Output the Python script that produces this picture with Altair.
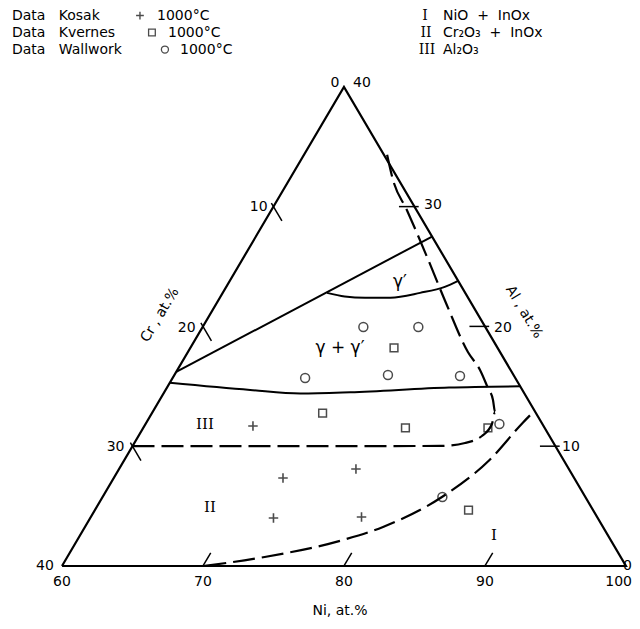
import altair as alt
import pandas as pd

# ---- compositions in at.% : Ni, Al  (Cr = 100 - Ni - Al) ----
tri_ni = [60, 100, 60, 60]
tri_al = [0, 0, 40, 0]

upper_ni = [60, 72.5]
upper_al = [16.2, 27.5]

gprime_ni = [67.4, 68.8, 70.3, 72.1, 74.0, 75.5, 76.2]
gprime_al = [22.8, 22.5, 22.4, 22.4, 22.8, 23.3, 23.8]

lower_ni = [60, 66.0, 69.7, 73.2, 80.0, 85.0]
lower_al = [15.3, 14.7, 14.4, 14.5, 14.9, 15.0]

dash1_ni = [60, 71.9, 81.8, 83.45, 84.36, 84.57, 84.29, 83.64, 82.78, 81.47, 79.86, 76.4, 73.0, 69.6, 67.37, 65.8]
dash1_al = [10, 10, 10.02, 10.27, 10.85, 11.85, 12.85, 13.86, 14.86, 16.36, 17.86, 21.79, 25.79, 29.72, 32.22, 34.47]

dash2_ni = [70.1, 74.0, 78.85, 81.14, 84.07, 85.9, 86.7, 87.0]
dash2_al = [0, 0.75, 2.17, 3.26, 5.76, 8.85, 11.94, 12.85]

kosak_ni = [67.7, 72.0, 76.8, 73.0, 79.2]
kosak_al = [11.69, 7.35, 8.10, 4.0, 4.09]

kvernes_ni = [74.45, 72.1, 78.6, 84.45, 86.5]
kvernes_al = [18.2, 12.77, 11.52, 11.52, 4.67]

wallwork_ni = [71.4, 75.3, 69.4, 75.15, 80.3, 85.1, 84.1]
wallwork_al = [19.95, 19.95, 15.69, 15.94, 15.86, 11.85, 5.76]

ni_ticks = [70, 80, 90]
cr_ticks = [10, 20, 30]
al_ticks = [10, 20, 30]

NB = "\u00a0"


def cart(ni, al):
    return ni + al / 2.0, al


def line_df(ni, al, group="g"):
    rows = []
    for i, (n, a) in enumerate(zip(ni, al)):
        x, y = cart(n, a)
        rows.append({"x": x, "y": y, "o": i, "g": group})
    return pd.DataFrame(rows)


def pts_df(ni, al):
    rows = []
    for n, a in zip(ni, al):
        x, y = cart(n, a)
        rows.append({"x": x, "y": y})
    return pd.DataFrame(rows)


xs = alt.Scale(domain=[56.17, 100.43], nice=False, zero=False)
ys = alt.Scale(domain=[-4.51, 46.58], nice=False, zero=False)
X = alt.X("x:Q", scale=xs, axis=None)
Y = alt.Y("y:Q", scale=ys, axis=None)


def solid(df, width=2):
    return alt.Chart(df).mark_line(color="black", strokeWidth=width).encode(
        x=X, y=Y, order="o:Q", detail="g:N")


def dashed(df):
    return alt.Chart(df).mark_line(color="black", strokeWidth=2.2, strokeDash=[22, 7], interpolate="monotone").encode(
        x=X, y=Y, order="o:Q")


layers = []
layers.append(solid(line_df(tri_ni, tri_al), 2.2))
layers.append(solid(line_df(upper_ni, upper_al)))
layers.append(alt.Chart(line_df(gprime_ni, gprime_al)).mark_line(color="black", strokeWidth=2, interpolate="monotone").encode(x=X, y=Y, order="o:Q"))
layers.append(alt.Chart(line_df(lower_ni, lower_al)).mark_line(color="black", strokeWidth=2, interpolate="monotone").encode(x=X, y=Y, order="o:Q"))
layers.append(dashed(line_df(dash1_ni, dash1_al)))
layers.append(dashed(line_df(dash2_ni, dash2_al)))

# ticks
tick_frames = []
for t in ni_ticks:
    tick_frames.append(line_df([t, t], [0, 1.1], f"ni{t}"))
for c in cr_ticks:
    a = 40 - c
    tick_frames.append(line_df([60 - 0.3, 61.2], [a + 0.3, a - 1.2], f"cr{c}"))
for a in al_ticks:
    tick_frames.append(line_df([100 - a + 0.3, 100 - a - 1.1], [a, a], f"al{a}"))
layers.append(solid(pd.concat(tick_frames), 1.5))

# data points
plus_path = "M-1,0L1,0M0,-1L0,1"
layers.append(alt.Chart(pts_df(kosak_ni, kosak_al)).mark_point(shape=plus_path, size=90, color="black", strokeWidth=1.6, filled=False).encode(x=X, y=Y))
layers.append(alt.Chart(pts_df(kvernes_ni, kvernes_al)).mark_point(shape="square", size=60, color="black", strokeWidth=1.5, filled=False).encode(x=X, y=Y))
layers.append(alt.Chart(pts_df(wallwork_ni, wallwork_al)).mark_point(shape="circle", size=80, color="black", strokeWidth=1.5, filled=False).encode(x=X, y=Y))

# legend symbols
layers.append(alt.Chart(pd.DataFrame({"x": [65.53], "y": [45.95]})).mark_point(shape=plus_path, size=60, color="black", strokeWidth=1.4, filled=False).encode(x=X, y=Y))
layers.append(alt.Chart(pd.DataFrame({"x": [66.38], "y": [44.53]})).mark_point(shape="square", size=45, color="black", strokeWidth=1.3, filled=False).encode(x=X, y=Y))
layers.append(alt.Chart(pd.DataFrame({"x": [67.30], "y": [43.11]})).mark_point(shape="circle", size=50, color="black", strokeWidth=1.3, filled=False).encode(x=X, y=Y))

FONT = "DejaVu Sans"


def texts(rows, align="center", size=14, font=FONT, angle=0):
    df = pd.DataFrame(rows, columns=["x", "y", "t"])
    kw = dict(align=align, baseline="middle", fontSize=size, font=font, color="black")
    if angle:
        kw["angle"] = angle
    return alt.Chart(df).mark_text(**kw).encode(x=X, y=Y, text="t:N")


# legend texts (left)
layers.append(texts([
    (56.45, 45.95, "Data" + NB * 3 + "Kosak"),
    (56.45, 44.53, "Data" + NB * 3 + "Kvernes"),
    (56.45, 43.11, "Data" + NB * 3 + "Wallwork"),
    (66.74, 45.95, "1000°C"),
    (67.52, 44.53, "1000°C"),
    (68.37, 43.11, "1000°C"),
], align="left", size=14))

# legend texts (right)
layers.append(texts([
    (85.74, 45.95, "I"),
    (85.82, 44.53, "II"),
    (85.89, 43.11, "III"),
], font="DejaVu Serif", size=14))
layers.append(texts([
    (87.02, 45.95, "NiO" + NB * 2 + "+" + NB * 2 + "InOx"),
    (87.02, 44.53, "Cr₂O₃" + NB * 2 + "+" + NB * 2 + "InOx"),
    (87.02, 43.11, "Al₂O₃"),
], align="left", size=14))

# tick labels
layers.append(texts([
    (79.36, 40.32, "0"), (81.28, 40.32, "40"),
    (73.95, 29.97, "10"), (68.85, 19.87, "20"), (63.8, 9.93, "30"), (58.79, 0, "40"),
    (86.31, 30.13, "30"), (91.28, 19.87, "20"), (96.1, 9.93, "10"),
    (60, -1.34, "60"), (70, -1.34, "70"), (80, -1.34, "80"), (90, -1.34, "90"),
    (79.72, -3.76, "Ni, at.%"),
]))
layers.append(texts([(100.43, 0, "0"), (100.43, -1.34, "100")], align="right"))
layers.append(texts([(66.95, 20.95, "Cr , at.%")], angle=301))
layers.append(texts([(92.77, 21.2, "Al , at.%")], angle=59))

# region labels
layers.append(texts([(83.97, 23.71, "γ′"), (79.72, 18.2, "γ + γ′")], size=17))
layers.append(texts([(70.14, 11.85, "III"), (70.50, 4.92, "II"), (90.64, 2.59, "I")], size=15, font="DejaVu Serif"))

chart = alt.layer(*layers).properties(
    width=624, height=612,
    autosize=alt.AutoSizeParams(type="none"),
    padding=0,
).configure_view(stroke=None)

chart.save("out.html", embed_options={"renderer": "svg", "actions": False})
